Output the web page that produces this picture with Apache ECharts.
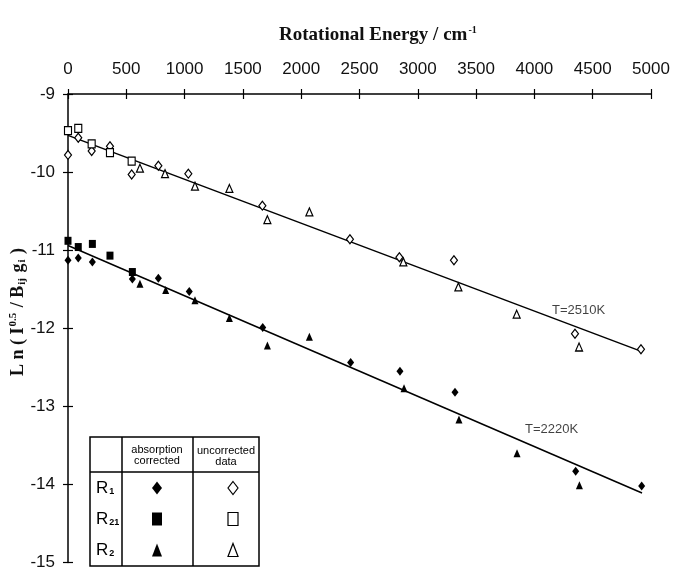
<!DOCTYPE html>
<html>
<head>
<meta charset="utf-8">
<script src="https://cdn.jsdelivr.net/npm/echarts@6/dist/echarts.min.js"></script>
<style>
  html, body { margin: 0; padding: 0; background: #fff; }
  #chart { width: 681px; height: 571px; }
</style>
</head>
<body>
<div id="chart"></div>
<script>
// x ticks (rotational energy, cm-1) and y range
const energyTicks = [0, 500, 1000, 1500, 2000, 2500, 3000, 3500, 4000, 4500, 5000]
const lnRange = [-15, -9]

// uncorrected data (open symbols)
const r1UncorrE = [0, 88, 203, 360, 546, 775, 1032, 1667, 2418, 2842, 3310, 4348, 4914]
const r1UncorrLn = [-9.78, -9.56, -9.73, -9.67, -10.03, -9.92, -10.02, -10.43, -10.86, -11.09, -11.13, -12.07, -12.27]
const r21UncorrE = [0, 88, 203, 360, 546]
const r21UncorrLn = [-9.47, -9.44, -9.64, -9.75, -9.86]
const r2UncorrE = [617, 832, 1089, 1384, 1710, 2070, 2876, 3348, 3848, 4383]
const r2UncorrLn = [-9.95, -10.02, -10.18, -10.21, -10.61, -10.51, -11.15, -11.47, -11.82, -12.24]

// absorption corrected (filled symbols)
const r1CorrE = [0, 88, 209, 552, 775, 1040, 1670, 2424, 2847, 3319, 4354, 4920]
const r1CorrLn = [-11.13, -11.10, -11.15, -11.37, -11.36, -11.53, -11.99, -12.44, -12.55, -12.82, -13.83, -14.02]
const r21CorrE = [0, 88, 209, 360, 552]
const r21CorrLn = [-10.88, -10.96, -10.92, -11.07, -11.28]
const r2CorrE = [617, 838, 1089, 1384, 1710, 2070, 2882, 3353, 3851, 4386]
const r2CorrLn = [-11.43, -11.51, -11.64, -11.87, -12.22, -12.11, -12.77, -13.17, -13.60, -14.01]

// fitted lines (end points)
const fitUncorrE = [0, 4906]
const fitUncorrLn = [-9.53, -12.29]
const fitCorrE = [0, 4923]
const fitCorrLn = [-10.94, -14.11]

// temperature labels
const tempNames = ['T=2510K', 'T=2220K']
const tempE = [4151, 3919]
const tempLn = [-11.77, -13.29]

const pairs = (xs, ys) => xs.map((x, i) => [x, ys[i]])

const sansFont = '"Liberation Sans", Arial, sans-serif'
const serifFont = '"Liberation Serif", "Times New Roman", serif'

function points(series, symbol, size, filled) {
  return {
    type: 'scatter',
    data: series,
    symbol: symbol,
    symbolSize: size,
    itemStyle: {
      color: filled ? '#000' : '#fff',
      borderColor: '#000',
      borderWidth: filled ? 0 : 1.2,
      opacity: 1
    },
    z: 5
  }
}

function fitLine(xs, ys) {
  return {
    type: 'line',
    data: pairs(xs, ys),
    symbol: 'none',
    lineStyle: { color: '#000', width: 1.5 },
    z: 3
  }
}

// legend table shapes
function diamond(cx, cy, w, h) { return [[cx, cy - h / 2], [cx + w / 2, cy], [cx, cy + h / 2], [cx - w / 2, cy]] }
function square(cx, cy, w, h) { return [[cx - w / 2, cy - h / 2], [cx + w / 2, cy - h / 2], [cx + w / 2, cy + h / 2], [cx - w / 2, cy + h / 2]] }
function triangle(cx, cy, w, h) { return [[cx, cy - h / 2], [cx + w / 2, cy + h / 2], [cx - w / 2, cy + h / 2]] }

const tableRows = [
  { label: '{r|R}{s|1}', shape: diamond, y: 488 },
  { label: '{r|R}{s|21}', shape: square, y: 519 },
  { label: '{r|R}{s|2}', shape: triangle, y: 550 }
]

let tableGraphics = [
  { type: 'rect', shape: { x: 90, y: 437, width: 169, height: 129 }, style: { fill: '#fff', stroke: '#000', lineWidth: 1.5 } },
  { type: 'line', shape: { x1: 122, y1: 437, x2: 122, y2: 566 }, style: { stroke: '#000', lineWidth: 1.5 } },
  { type: 'line', shape: { x1: 193, y1: 437, x2: 193, y2: 566 }, style: { stroke: '#000', lineWidth: 1.5 } },
  { type: 'line', shape: { x1: 90, y1: 472, x2: 259, y2: 472 }, style: { stroke: '#000', lineWidth: 1.5 } },
  { type: 'text', x: 157, y: 455, style: { text: 'absorption\ncorrected', font: '11px ' + sansFont, fill: '#000', align: 'center', verticalAlign: 'middle', lineHeight: 11 } },
  { type: 'text', x: 226, y: 456, style: { text: 'uncorrected\ndata', font: '11px ' + sansFont, fill: '#000', align: 'center', verticalAlign: 'middle', lineHeight: 11 } }
]
tableRows.forEach(row => {
  tableGraphics.push({
    type: 'text', x: 96, y: row.y,
    style: {
      text: row.label, align: 'left', verticalAlign: 'middle',
      rich: {
        r: { fontSize: 17, fontFamily: sansFont, fill: '#000', verticalAlign: 'bottom' },
        s: { fontSize: 9, fontFamily: sansFont, fill: '#000', fontWeight: 'bold', padding: [8, 0, 0, 1] }
      }
    }
  })
  tableGraphics.push({ type: 'polygon', shape: { points: row.shape(157, row.y, 10, 13) }, style: { fill: '#000' } })
  tableGraphics.push({ type: 'polygon', shape: { points: row.shape(233, row.y, 10, 13) }, style: { fill: '#fff', stroke: '#000', lineWidth: 1.2 } })
})

let myChart = echarts.init(document.getElementById('chart'))

const option = {
  backgroundColor: '#fff',
  animation: false,
  title: {
    text: '{t|Rotational Energy / cm}{sup|-1}',
    left: 274,
    top: 20,
    textStyle: {
      rich: {
        t: { fontFamily: serifFont, fontWeight: 'bold', fontSize: 19, color: '#111' },
        sup: { fontFamily: serifFont, fontWeight: 'bold', fontSize: 10, color: '#111', verticalAlign: 'top', padding: [0, 0, 11, 1] }
      }
    }
  },
  grid: { left: 68, right: 30, top: 94, bottom: 4 },
  xAxis: [{
    type: 'value',
    position: 'top',
    min: energyTicks[0],
    max: energyTicks[energyTicks.length - 1],
    interval: 500,
    axisLine: { lineStyle: { color: '#000', width: 1.5 } },
    axisTick: { length: 5, lineStyle: { color: '#000', width: 1.2 } },
    axisLabel: { color: '#111', fontSize: 17, fontFamily: sansFont, margin: 16, formatter: v => String(v) },
    splitLine: { show: false }
  }, {
    type: 'value',
    position: 'top',
    min: energyTicks[0],
    max: energyTicks[energyTicks.length - 1],
    interval: 500,
    axisLine: { show: false },
    axisTick: { inside: true, length: 5, lineStyle: { color: '#000', width: 1.2 } },
    axisLabel: { show: false },
    splitLine: { show: false }
  }],
  yAxis: [{
    type: 'value',
    min: lnRange[0],
    max: lnRange[1],
    interval: 1,
    axisLine: { show: true, lineStyle: { color: '#000', width: 1.5 } },
    axisTick: { show: true, length: 5, lineStyle: { color: '#000', width: 1.2 } },
    axisLabel: { color: '#111', fontSize: 17, fontFamily: sansFont, margin: 13, formatter: v => String(v) },
    splitLine: { show: false }
  }, {
    type: 'value',
    position: 'left',
    min: lnRange[0],
    max: lnRange[1],
    interval: 1,
    axisLine: { show: false },
    axisTick: { show: true, inside: true, length: 5, lineStyle: { color: '#000', width: 1.2 } },
    axisLabel: { show: false },
    splitLine: { show: false }
  }],
  graphic: [{
    type: 'text',
    x: 18,
    y: 312,
    rotation: Math.PI / 2,
    style: {
      text: '{a|L n ( I}{sup|0.5}{a| / B}{sub|ij}{a| g}{sub|i}{a| )}',
      align: 'center',
      verticalAlign: 'middle',
      rich: {
        a: { fontFamily: serifFont, fontWeight: 'bold', fontSize: 18, fill: '#111' },
        sup: { fontFamily: serifFont, fontWeight: 'bold', fontSize: 11, fill: '#111', padding: [0, 1, 10, 1] },
        sub: { fontFamily: serifFont, fontWeight: 'bold', fontSize: 11, fill: '#111', padding: [8, 1, 0, 1] }
      }
    }
  }].concat(tableGraphics),
  series: [
    fitLine(fitUncorrE, fitUncorrLn),
    fitLine(fitCorrE, fitCorrLn),
    points(pairs(r1UncorrE, r1UncorrLn), 'diamond', [7, 9], false),
    points(pairs(r21UncorrE, r21UncorrLn), 'rect', [7, 8], false),
    points(pairs(r2UncorrE, r2UncorrLn), 'triangle', [7, 8], false),
    points(pairs(r1CorrE, r1CorrLn), 'diamond', [7, 9], true),
    points(pairs(r21CorrE, r21CorrLn), 'rect', [7, 8], true),
    points(pairs(r2CorrE, r2CorrLn), 'triangle', [7, 8], true),
    {
      type: 'scatter',
      symbolSize: 0,
      data: tempNames.map((n, i) => ({ name: n, value: [tempE[i], tempLn[i]] })),
      label: {
        show: true,
        position: 'right',
        distance: 0,
        formatter: p => p.name,
        color: '#111',
        fontSize: 13,
        fontFamily: sansFont
      },
      z: 6
    }
  ]
}

myChart.setOption(option)
</script>
</body>
</html>
